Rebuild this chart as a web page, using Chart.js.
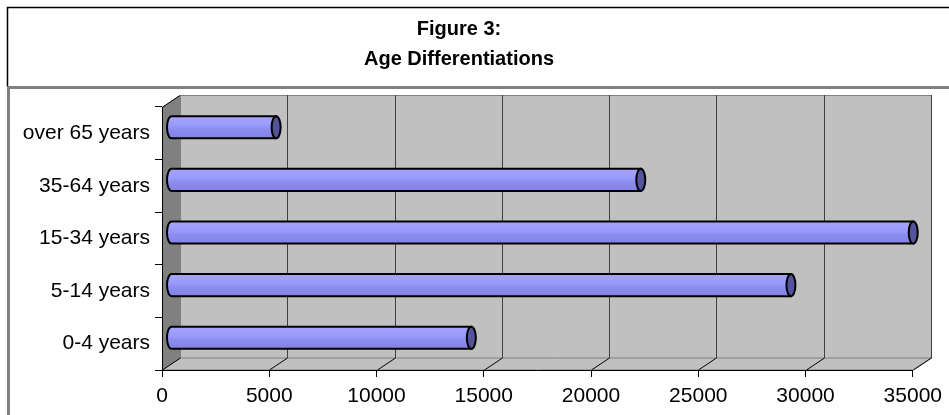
<!DOCTYPE html>
<html>
<head>
<meta charset="utf-8">
<script src="https://cdn.jsdelivr.net/npm/chart.js@4.4.0/dist/chart.umd.min.js"></script>
<style>
  html, body { margin: 0; padding: 0; background: #fff; }
  #wrap { width: 949px; height: 415px; }
</style>
</head>
<body>
<div id="wrap"><canvas id="ageChart" width="949" height="415"></canvas></div>
<script>
// Figure 3 data
const ageGroups = ["0-4 years", "5-14 years", "15-34 years", "35-64 years", "over 65 years"];
const population = [14000, 28900, 34600, 21900, 4900];
const xTicks = [0, 5000, 10000, 15000, 20000, 25000, 30000, 35000];

const DX = 18, DY = -12; // depth of the 3D box
const FONT = "'Liberation Sans', Arial, sans-serif";

// walls, floor, frame lines
const wallsPlugin = {
  id: "walls",
  beforeDraw(chart) {
    const ctx = chart.ctx;
    const a = chart.chartArea;
    const xs = chart.scales.x;
    ctx.save();

    // frame round the chart
    ctx.strokeStyle = "#000";
    ctx.lineWidth = 1.5;
    ctx.beginPath();
    ctx.moveTo(949, 7.5); ctx.lineTo(7.5, 7.5); ctx.lineTo(7.5, 87);
    ctx.stroke();
    ctx.strokeStyle = "#808080";
    ctx.lineWidth = 3;
    ctx.beginPath();
    ctx.moveTo(949, 87.5); ctx.lineTo(8.5, 87.5); ctx.lineTo(8.5, 415);
    ctx.stroke();

    ctx.lineWidth = 1;
    ctx.strokeStyle = "#808080";
    // back wall
    ctx.fillStyle = "#c0c0c0";
    ctx.fillRect(a.left + DX, a.top + DY, a.right - a.left, a.bottom - a.top);
    ctx.strokeRect(a.left + DX + 0.5, a.top + DY + 0.5, a.right - a.left, a.bottom - a.top);
    // floor
    ctx.beginPath();
    ctx.moveTo(a.left, a.bottom);
    ctx.lineTo(a.left + DX, a.bottom + DY);
    ctx.lineTo(a.right + DX, a.bottom + DY);
    ctx.lineTo(a.right, a.bottom);
    ctx.closePath();
    ctx.fill();
    ctx.stroke();
    // side wall
    ctx.fillStyle = "#808080";
    ctx.beginPath();
    ctx.moveTo(a.left, a.top);
    ctx.lineTo(a.left + DX, a.top + DY);
    ctx.lineTo(a.left + DX, a.bottom + DY);
    ctx.lineTo(a.left, a.bottom);
    ctx.closePath();
    ctx.fill();
    ctx.strokeStyle = "#000";
    ctx.beginPath();
    ctx.moveTo(a.left, a.top + 0.5);
    ctx.lineTo(a.left + DX, a.top + DY + 0.5);
    ctx.stroke();

    // grid lines on back wall and floor
    xTicks.forEach(v => {
      const px = Math.round(xs.getPixelForValue(v)) + 0.5;
      if (v > 0) {
        ctx.strokeStyle = "#404040";
        ctx.beginPath();
        ctx.moveTo(px + DX, a.top + DY);
        ctx.lineTo(px + DX, a.bottom + DY);
        ctx.stroke();
      }
      ctx.strokeStyle = "#000";
      ctx.beginPath();
      ctx.moveTo(px, a.bottom);
      ctx.lineTo(px + DX, a.bottom + DY);
      ctx.stroke();
    });
    ctx.restore();
  }
};

// cylinder bars, drawn at half depth from the bar elements
const cylinderPlugin = {
  id: "cylinders",
  afterDatasetsDraw(chart) {
    const ctx = chart.ctx;
    const meta = chart.getDatasetMeta(0);
    ctx.save();
    ctx.translate(DX / 2, DY / 2);
    meta.data.forEach(bar => {
      const p = bar.getProps(["x", "y", "base", "height"], true);
      const h = p.height, top = p.y - h / 2, rx = 4.5;
      const g = ctx.createLinearGradient(0, top, 0, top + h);
      g.addColorStop(0, "#a6a6ff");
      g.addColorStop(0.45, "#9898fa");
      g.addColorStop(0.6, "#8c8cee");
      g.addColorStop(1, "#8282e4");
      // body with the far end rounded
      ctx.beginPath();
      ctx.moveTo(p.x, top);
      ctx.lineTo(p.base, top);
      ctx.ellipse(p.base, p.y, rx, h / 2, 0, -Math.PI / 2, Math.PI / 2, true);
      ctx.lineTo(p.x, top + h);
      ctx.closePath();
      ctx.fillStyle = g;
      ctx.fill();
      ctx.lineWidth = 2;
      ctx.strokeStyle = "#000";
      ctx.stroke();
      // near end cap
      ctx.beginPath();
      ctx.ellipse(p.x, p.y, rx, h / 2, 0, 0, Math.PI * 2);
      ctx.fillStyle = "#54549e";
      ctx.fill();
      ctx.stroke();
    });
    ctx.restore();
  }
};

const ctx = document.getElementById("ageChart").getContext("2d");
new Chart(ctx, {
  type: "bar",
  data: {
    labels: ageGroups,
    datasets: [
      {
        label: "Population",
        data: population,
        backgroundColor: "rgba(0,0,0,0)",
        borderWidth: 0,
        categoryPercentage: 1,
        barPercentage: 0.42
      }
    ]
  },
  options: {
    indexAxis: "y",
    responsive: false,
    animation: false,
    layout: { padding: { top: 0, right: 31, bottom: 0, left: 0 } },
    plugins: {
      legend: { display: false },
      tooltip: { enabled: false },
      title: {
        display: true,
        text: ["Figure 3:", "Age Differentiations"],
        color: "#000",
        font: { family: FONT, size: 20, weight: "bold", lineHeight: 1.5 },
        padding: { top: 14, bottom: 33 }
      }
    },
    scales: {
      x: {
        min: 0,
        max: 35000,
        afterBuildTicks: s => { s.ticks = xTicks.map(v => ({ value: v })); },
        afterFit: s => { s.height = 45; },
        grid: { display: true, drawOnChartArea: false, tickLength: 7, color: "#000" },
        border: { display: true, color: "#000", width: 1 },
        ticks: {
          color: "#000",
          padding: 7,
          font: { family: FONT, size: 21 },
          maxRotation: 0,
          callback: v => String(v)
        }
      },
      y: {
        reverse: true,
        afterFit: s => { s.width = 162; },
        grid: { display: true, drawOnChartArea: false, tickLength: 7, color: "#000" },
        border: { display: true, color: "#000", width: 1 },
        ticks: { color: "#000", padding: 5, font: { family: FONT, size: 21 } }
      }
    }
  },
  plugins: [wallsPlugin, cylinderPlugin]
});
</script>
</body>
</html>
